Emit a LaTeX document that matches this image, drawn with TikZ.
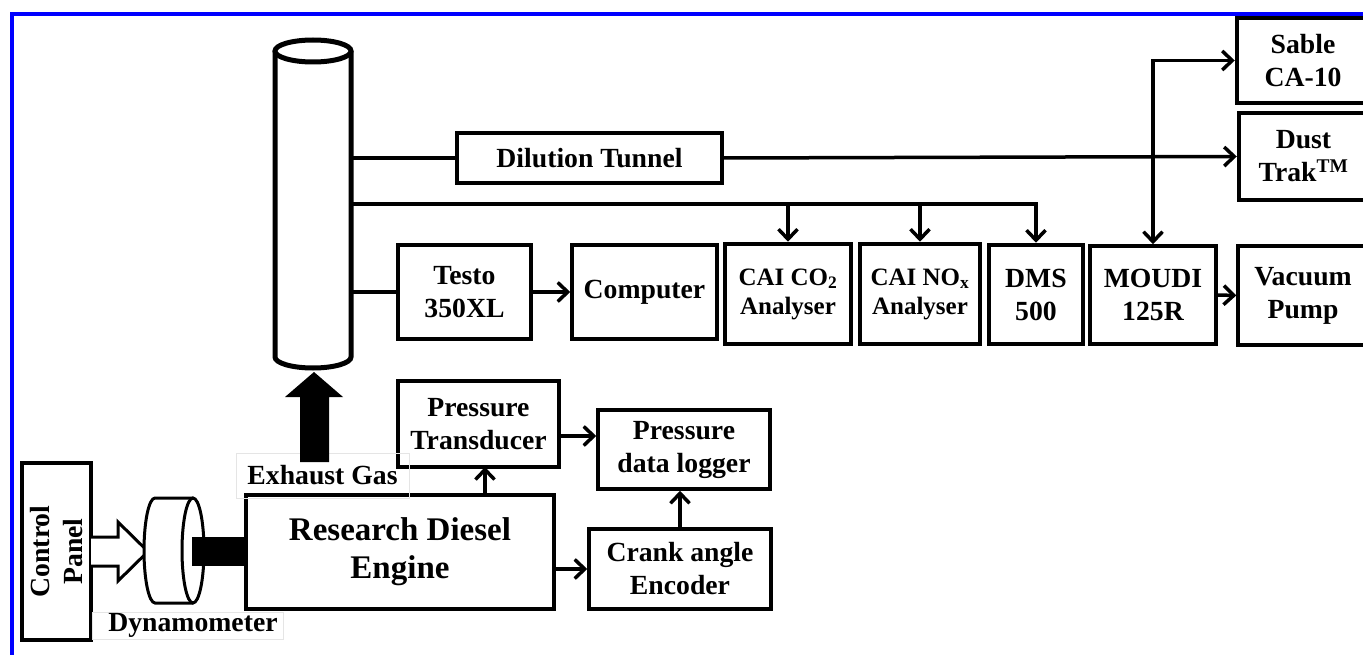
\documentclass[tikz,border=0pt]{standalone}
\usepackage{fontspec}
\setmainfont{Liberation Serif}
\usetikzlibrary{arrows.meta}

\tikzset{
	box/.style={draw, line width=3.5pt, inner sep=0pt, align=center,
		font=\bfseries\fontsize{27.7}{33}\selectfont},
	thickbox/.style={box, line width=4.5pt},
	dims/.style 2 args={minimum width=#1pt, minimum height=#2pt},
	faint/.style={draw=black!10, line width=1pt, inner sep=0pt,
		font=\bfseries\fontsize{27.7}{33}\selectfont},
	conn/.style={line width=3.5pt},
	>={Straight Barb[length=10pt,width=19pt]}
}

\begin{document}
\begin{tikzpicture}[x=1pt,y=-1pt]
	\useasboundingbox (0,0) rectangle (1363,655);
	\draw[blue, line width=4.5pt] (12,700) -- (12,14) -- (1400,14);

	% exhaust pipe
	\node[inner sep=0pt, outer sep=0pt, dims={76}{306}] (pipe) at (313,204) {};
	\draw[line width=5pt, fill=white] (pipe.north west) -- (pipe.south west)
		arc[start angle=180, end angle=360, x radius=38pt, y radius=11pt] -- (pipe.north east);
	\draw[line width=5pt, fill=white] (pipe.north) ellipse[x radius=38pt, y radius=11pt];

	% sampling line
	\node[box, dims={265}{50}] (dil) at (589.5,158) {Dilution Tunnel};
	\node[box, dims={133}{94}] (testo) at (464.5,292) {Testo\\350XL};
	\node[box, dims={145}{94}] (comp) at (644.5,292) {Computer};
	\node[thickbox, dims={126}{100}, font=\bfseries\fontsize{25}{29}\selectfont] (co2) at (788,294) {CAI CO\textsubscript{2}\\Analyser};
	\node[thickbox, dims={120}{100}, font=\bfseries\fontsize{25}{29}\selectfont] (nox) at (920,294) {CAI NO\textsubscript{x}\\Analyser};
	\node[thickbox, dims={94}{99}] (dms) at (1036,294.5) {DMS\\500};
	\node[box, dims={126}{98}] (moudi) at (1153,295) {MOUDI\\125R};
	\node[box, dims={130}{99}] (vac) at (1303,295.5) {Vacuum\\Pump};
	\node[thickbox, dims={132}{85}] (sable) at (1303,60.5) {Sable\\CA-10};
	\node[thickbox, dims={129}{87}] (dust) at (1303.5,156.5) {Dust\\Trak\textsuperscript{TM}};

	\coordinate (tap) at (351,204);
	\draw[conn] (pipe.east |- dil.west) -- (dil.west);
	\draw[conn,->] (dil.east) -- (dust.west);
	\draw[conn,->] (tap) -| (dms.north);
	\foreach \n in {co2,nox}
		\draw[conn,->] (\n.north |- tap) -- (\n.north);
	\draw[conn] (pipe.east |- testo.west) -- (testo.west);
	\draw[conn,->] (testo.east) -- (comp.west);
	\draw[conn,<->] (moudi.north) |- (sable.west);
	\draw[conn,->] (moudi.east) -- (vac.west);

	% engine and pressure measurement
	\node[box, dims={308}{114}, font=\bfseries\fontsize{33}{38}\selectfont] (engine) at (400,552) {Research Diesel\\Engine};
	\node[box, dims={161}{86}] (trans) at (478.5,424) {Pressure\\Transducer};
	\node[box, dims={172}{79}] (logger) at (684,449.5) {Pressure\\data logger};
	\node[box, dims={182}{80}] (crank) at (680,569) {Crank angle\\Encoder};
	\node[faint, dims={173}{45}] (exh) at (322.5,475.5) {Exhaust Gas};

	\coordinate (t2l) at (559,436);
	\draw[conn,->] (485,495) -- (485,467);
	\draw[conn,->] (t2l) -- (t2l -| logger.west);
	\draw[conn,->] (crank.north) -- (crank.north |- logger.south);
	\draw[conn,->] (engine.east |- crank.west) -- (crank.west);

	% exhaust flow
	\fill (300,462) -- (300,397) -- (285,397) -- (314,372) -- (343,397) -- (329,397) -- (329,462) -- cycle;

	% control panel and dynamometer
	\node[box, rotate=90, dims={177}{69}] (ctrl) at (56.5,551.5) {Control\\Panel};
	\node[faint, dims={191}{27}, anchor=west] (dynlabel) at (92,625.5) {\hspace*{10pt}Dynamometer\hfill};
	\node[inner sep=0pt, outer sep=0pt, dims={38}{105}] (dyno) at (174,550.5) {};
	\draw[line width=3pt, fill=white] (91,537) -- (118,537) -- (118,522) -- (148,551.5)
		-- (118,581) -- (118,566) -- (91,566);
	\draw[line width=3pt, fill=white] (dyno.north east) -- (dyno.north west)
		arc[start angle=90, end angle=270, x radius=11pt, y radius=52.5pt] -- (dyno.south east);
	\draw[line width=3pt, fill=white] (dyno.east) ellipse[x radius=11pt, y radius=52.5pt];
	\fill (192,537) rectangle (engine.west |- 0,566);
\end{tikzpicture}
\end{document}
